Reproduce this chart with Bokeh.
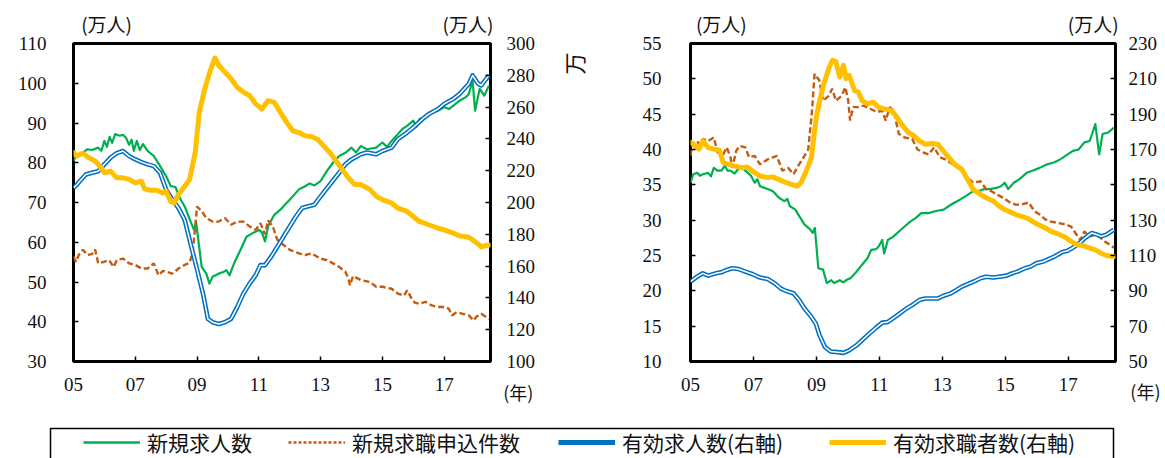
import math
from bokeh.plotting import figure
from bokeh.models import Range1d, LinearAxis, FixedTicker, Label, Legend, LegendItem
from bokeh.layouts import row, column
from bokeh.embed import file_html
from bokeh.resources import INLINE

# ---------------- data ----------------
X_TICKS = [2005, 2007, 2009, 2011, 2013, 2015, 2017]
X_LABELS = ["05", "07", "09", "11", "13", "15", "17"]

# left panel (left axis: 新規, right axis: 有効)
left_green = [(2005.00, 80.5), (2005.08, 81.5), (2005.17, 82.0), (2005.3, 82.5), (2005.45, 83.4), (2005.6, 83.2),
              (2005.8, 83.8), (2005.9, 83.0), (2006.0, 85.5), (2006.08, 84.0), (2006.17, 86.5), (2006.25, 85.0),
              (2006.35, 87.2), (2006.5, 86.8), (2006.6, 87.0), (2006.7, 86.3), (2006.8, 84.5), (2006.88, 85.8),
              (2006.95, 83.0), (2007.05, 85.5), (2007.15, 83.2), (2007.25, 84.7), (2007.4, 83.0), (2007.6, 81.7),
              (2007.8, 79.2), (2008.0, 76.6), (2008.15, 74.1), (2008.3, 73.9), (2008.45, 71.0), (2008.6, 69.0),
              (2008.75, 66.0), (2008.9, 63.1), (2008.97, 65.0), (2009.05, 60.0), (2009.15, 53.8), (2009.3, 52.1),
              (2009.4, 49.6), (2009.5, 51.3), (2009.7, 52.1), (2009.85, 52.5), (2009.95, 53.0), (2010.05, 51.7),
              (2010.2, 54.7), (2010.4, 58.0), (2010.6, 61.4), (2010.8, 62.3), (2011.0, 63.1), (2011.1, 62.5),
              (2011.2, 60.2), (2011.3, 64.0), (2011.5, 66.9), (2011.7, 68.2), (2011.85, 69.5), (2012.0, 70.7),
              (2012.3, 73.3), (2012.5, 74.1), (2012.65, 74.8), (2012.8, 74.3), (2013.0, 75.4), (2013.2, 77.9),
              (2013.4, 80.0), (2013.6, 81.7), (2013.8, 82.5), (2014.0, 83.8), (2014.15, 82.6), (2014.3, 84.2),
              (2014.5, 83.4), (2014.8, 83.8), (2015.0, 85.1), (2015.15, 84.0), (2015.3, 85.5), (2015.5, 87.2),
              (2015.65, 88.5), (2015.8, 89.3), (2016.0, 90.6), (2016.1, 89.0), (2016.2, 91.0), (2016.35, 91.3),
              (2016.5, 92.3), (2016.8, 93.1), (2017.0, 94.0), (2017.15, 93.5), (2017.3, 94.4), (2017.5, 95.6),
              (2017.7, 96.5), (2017.8, 97.3), (2017.92, 100.7), (2018.0, 93.1), (2018.15, 98.6), (2018.3, 96.9),
              (2018.45, 99.4)]
left_dash = [(2005.0, 56.4), (2005.08, 55.1), (2005.17, 56.8), (2005.3, 58.1), (2005.45, 56.8), (2005.6, 57.0),
             (2005.7, 58.2), (2005.8, 54.7), (2006.0, 55.1), (2006.15, 55.5), (2006.3, 53.8), (2006.4, 55.5),
             (2006.6, 55.9), (2006.8, 54.7), (2007.0, 54.3), (2007.2, 53.4), (2007.4, 53.4), (2007.6, 54.7),
             (2007.75, 51.7), (2007.9, 52.8), (2008.0, 52.6), (2008.2, 52.1), (2008.4, 53.4), (2008.6, 54.3),
             (2008.75, 54.8), (2008.85, 57.0), (2008.93, 63.0), (2009.0, 69.0), (2009.15, 67.8), (2009.3, 66.1),
             (2009.5, 65.2), (2009.7, 65.2), (2009.9, 66.1), (2010.1, 64.4), (2010.3, 65.2), (2010.5, 65.2),
             (2010.7, 64.0), (2010.9, 63.1), (2011.05, 64.8), (2011.2, 62.0), (2011.3, 65.5), (2011.45, 64.0),
             (2011.6, 60.6), (2011.8, 59.3), (2012.0, 58.1), (2012.3, 57.2), (2012.5, 56.8), (2012.7, 57.2),
             (2013.0, 55.9), (2013.2, 55.5), (2013.4, 54.7), (2013.6, 53.8), (2013.8, 52.6), (2013.9, 50.9),
             (2013.95, 49.2), (2014.05, 51.5), (2014.3, 50.5), (2014.6, 50.0), (2014.8, 48.8), (2015.0, 48.8),
             (2015.3, 48.3), (2015.5, 47.1), (2015.7, 46.6), (2015.8, 47.9), (2015.95, 45.8), (2016.05, 44.8),
             (2016.2, 44.5), (2016.4, 45.0), (2016.6, 44.1), (2016.8, 43.7), (2017.0, 43.7), (2017.15, 43.3),
             (2017.25, 41.6), (2017.4, 42.4), (2017.6, 42.0), (2017.8, 41.6), (2017.95, 40.3), (2018.05, 41.3),
             (2018.2, 42.0), (2018.45, 40.7)]
left_blue = [(2005.0, 209.2), (2005.1, 211.0), (2005.2, 213.4), (2005.4, 217.6), (2005.6, 218.7), (2005.8, 219.7),
             (2006.0, 224.0), (2006.2, 228.2), (2006.4, 231.0), (2006.6, 232.4), (2006.8, 229.2), (2007.0, 227.1),
             (2007.2, 225.4), (2007.4, 224.0), (2007.6, 222.9), (2007.8, 218.7), (2008.0, 208.1), (2008.2, 201.8),
             (2008.4, 196.5), (2008.6, 189.1), (2008.8, 173.3), (2009.0, 158.0), (2009.2, 142.0), (2009.35, 126.8),
             (2009.5, 124.7), (2009.7, 123.6), (2009.9, 124.7), (2010.1, 126.8), (2010.3, 134.2), (2010.5, 142.7),
             (2010.7, 149.0), (2010.9, 154.3), (2011.05, 160.6), (2011.2, 160.6), (2011.4, 165.9), (2011.6, 172.2),
             (2011.8, 178.6), (2012.0, 184.9), (2012.2, 191.2), (2012.4, 196.5), (2012.6, 197.6), (2012.8, 198.6),
             (2013.0, 203.9), (2013.3, 211.3), (2013.6, 218.7), (2013.8, 224.0), (2014.0, 227.1), (2014.3, 230.3),
             (2014.5, 231.4), (2014.8, 230.3), (2015.0, 232.4), (2015.3, 234.5), (2015.5, 239.8), (2015.8, 244.0),
             (2016.0, 247.2), (2016.3, 252.5), (2016.5, 255.6), (2016.8, 258.8), (2017.0, 262.0), (2017.3, 265.2),
             (2017.5, 268.3), (2017.8, 274.7), (2017.92, 279.9), (2018.1, 274.7), (2018.2, 273.6), (2018.45, 280.0)]
left_yellow = [(2005.0, 231.4), (2005.1, 229.2), (2005.3, 231.0), (2005.5, 228.2), (2005.7, 226.1), (2005.9, 221.9),
               (2006.0, 218.7), (2006.2, 219.7), (2006.4, 215.5), (2006.6, 215.5), (2006.8, 214.5), (2007.0, 212.4),
               (2007.2, 213.4), (2007.3, 208.6), (2007.5, 207.7), (2007.7, 207.7), (2007.9, 206.0), (2008.0, 207.1),
               (2008.15, 200.5), (2008.25, 199.7), (2008.4, 205.0), (2008.6, 210.2), (2008.76, 214.5), (2008.94, 231.4),
               (2009.07, 256.7), (2009.25, 271.5), (2009.43, 283.1), (2009.58, 290.9), (2009.7, 286.3), (2009.85, 283.1),
               (2010.1, 277.8), (2010.3, 272.5), (2010.5, 269.4), (2010.7, 267.3), (2010.9, 262.0), (2011.1, 258.8),
               (2011.3, 264.1), (2011.5, 263.0), (2011.7, 256.7), (2011.9, 250.4), (2012.1, 245.1), (2012.3, 244.0),
               (2012.5, 241.9), (2012.7, 241.5), (2012.9, 239.8), (2013.1, 235.6), (2013.3, 231.4), (2013.5, 226.1),
               (2013.7, 220.8), (2013.9, 215.5), (2014.1, 211.3), (2014.3, 211.3), (2014.6, 208.1), (2014.8, 203.9),
               (2015.0, 201.8), (2015.3, 199.7), (2015.5, 196.5), (2015.8, 194.4), (2016.0, 191.2), (2016.2, 188.1),
               (2016.5, 186.0), (2016.8, 183.8), (2017.0, 182.8), (2017.3, 180.7), (2017.5, 179.0), (2017.8, 178.1),
               (2018.0, 175.4), (2018.2, 172.2), (2018.45, 173.3)]

# right panel
right_green = [(2005.0, 35.3), (2005.09, 36.5), (2005.21, 36.7), (2005.3, 36.3), (2005.39, 36.5), (2005.56, 36.7),
               (2005.65, 36.2), (2005.74, 37.4), (2005.85, 37.0), (2005.98, 37.0), (2006.09, 37.7), (2006.18, 37.0),
               (2006.27, 37.0), (2006.4, 36.6), (2006.51, 37.2), (2006.62, 37.6), (2006.74, 37.0), (2006.92, 36.3),
               (2007.04, 35.3), (2007.12, 35.8), (2007.21, 34.8), (2007.45, 34.4), (2007.62, 34.1), (2007.8, 33.2),
               (2007.98, 32.7), (2008.08, 33.0), (2008.15, 32.0), (2008.33, 31.5), (2008.45, 30.6), (2008.62, 29.4),
               (2008.8, 28.7), (2008.88, 28.2), (2008.95, 28.9), (2009.06, 23.2), (2009.21, 23.0), (2009.33, 21.1),
               (2009.47, 21.5), (2009.56, 21.1), (2009.74, 21.5), (2009.85, 21.2), (2009.98, 21.6), (2010.09, 21.8),
               (2010.27, 22.7), (2010.45, 23.7), (2010.62, 24.6), (2010.74, 25.8), (2010.9, 25.9), (2010.98, 26.3),
               (2011.09, 27.2), (2011.15, 25.3), (2011.27, 27.2), (2011.45, 27.7), (2011.62, 28.4), (2011.8, 29.1),
               (2011.98, 29.8), (2012.15, 30.3), (2012.33, 31.0), (2012.56, 31.0), (2012.8, 31.3), (2013.04, 31.5),
               (2013.21, 32.0), (2013.39, 32.5), (2013.56, 32.9), (2013.74, 33.4), (2013.98, 34.1), (2014.15, 34.1),
               (2014.33, 34.4), (2014.51, 34.4), (2014.74, 34.6), (2014.86, 34.8), (2014.98, 35.3), (2015.09, 34.4),
               (2015.27, 35.3), (2015.45, 35.8), (2015.68, 36.7), (2015.86, 37.0), (2016.09, 37.4), (2016.33, 37.9),
               (2016.56, 38.2), (2016.74, 38.6), (2016.98, 39.3), (2017.15, 39.8), (2017.33, 40.0), (2017.51, 41.0),
               (2017.68, 41.2), (2017.86, 43.6), (2017.98, 39.3), (2018.09, 42.2), (2018.27, 42.4), (2018.45, 43.1)]
right_dash = [(2005.0, 39.1), (2005.06, 40.8), (2005.21, 41.2), (2005.3, 40.6), (2005.39, 41.5), (2005.56, 41.2),
              (2005.74, 41.7), (2005.86, 39.6), (2006.04, 39.3), (2006.15, 40.3), (2006.27, 38.9), (2006.33, 37.4),
              (2006.45, 39.8), (2006.56, 40.5), (2006.74, 40.3), (2006.86, 38.9), (2007.04, 39.1), (2007.21, 37.9),
              (2007.45, 38.6), (2007.62, 38.9), (2007.74, 39.1), (2007.92, 37.0), (2008.1, 37.4), (2008.27, 36.5),
              (2008.45, 37.9), (2008.62, 39.1), (2008.74, 40.0), (2008.86, 45.5), (2008.94, 50.7), (2009.09, 49.8),
              (2009.21, 46.9), (2009.39, 47.6), (2009.5, 48.6), (2009.62, 46.9), (2009.8, 47.6), (2009.92, 48.8),
              (2010.01, 46.9), (2010.07, 44.1), (2010.17, 46.0), (2010.33, 46.0), (2010.5, 46.2), (2010.74, 45.7),
              (2010.92, 45.3), (2011.09, 45.5), (2011.2, 44.1), (2011.33, 46.0), (2011.45, 45.5), (2011.62, 42.2),
              (2011.8, 41.7), (2012.04, 41.5), (2012.21, 40.0), (2012.39, 39.6), (2012.56, 39.3), (2012.74, 40.3),
              (2012.92, 38.9), (2013.09, 38.6), (2013.33, 37.9), (2013.56, 37.2), (2013.8, 36.0), (2013.98, 35.3),
              (2014.21, 35.5), (2014.39, 34.4), (2014.56, 34.1), (2014.74, 33.6), (2014.92, 33.2), (2015.15, 32.5),
              (2015.33, 32.2), (2015.5, 32.2), (2015.74, 32.5), (2015.92, 31.3), (2016.09, 30.8), (2016.27, 30.1),
              (2016.45, 29.8), (2016.68, 29.6), (2016.92, 29.4), (2017.09, 29.1), (2017.27, 27.9), (2017.39, 27.2),
              (2017.51, 28.4), (2017.68, 27.7), (2017.86, 27.9), (2017.98, 27.7), (2018.15, 27.0), (2018.33, 26.5),
              (2018.45, 26.1)]
right_blue = [(2005.0, 95.2), (2005.21, 98.0), (2005.39, 99.9), (2005.56, 98.6), (2005.8, 99.9), (2005.98, 100.5),
              (2006.15, 101.8), (2006.33, 102.8), (2006.51, 102.4), (2006.74, 100.9), (2006.98, 99.4), (2007.21, 97.5),
              (2007.45, 96.7), (2007.68, 94.2), (2007.86, 91.4), (2008.04, 89.9), (2008.27, 88.6), (2008.45, 84.8),
              (2008.62, 80.0), (2008.8, 76.2), (2008.98, 71.5), (2009.1, 64.8), (2009.27, 58.2), (2009.45, 55.7),
              (2009.68, 55.3), (2009.86, 54.9), (2010.04, 56.3), (2010.27, 59.1), (2010.45, 62.0), (2010.68, 65.8),
              (2010.86, 68.6), (2011.09, 72.0), (2011.27, 72.4), (2011.5, 75.3), (2011.68, 77.7), (2011.86, 80.0),
              (2012.04, 81.9), (2012.27, 84.8), (2012.45, 85.7), (2012.68, 85.7), (2012.86, 85.7), (2013.04, 87.2),
              (2013.27, 88.6), (2013.45, 90.5), (2013.62, 92.4), (2013.86, 94.2), (2014.04, 95.6), (2014.21, 97.1),
              (2014.39, 98.0), (2014.62, 97.5), (2014.8, 98.0), (2015.04, 98.6), (2015.21, 99.9), (2015.39, 100.9),
              (2015.62, 102.8), (2015.8, 103.7), (2015.98, 105.6), (2016.21, 106.6), (2016.39, 108.1), (2016.56, 109.4),
              (2016.8, 111.9), (2016.98, 112.7), (2017.21, 115.1), (2017.39, 117.6), (2017.56, 120.3), (2017.74, 122.7),
              (2017.92, 121.8), (2018.04, 120.8), (2018.21, 121.8), (2018.45, 124.6)]
right_yellow = [(2005.0, 174.0), (2005.09, 173.0), (2005.27, 170.2), (2005.39, 174.9), (2005.56, 171.1), (2005.74, 170.2),
                (2005.92, 169.6), (2006.04, 162.6), (2006.21, 161.6), (2006.39, 160.7), (2006.62, 159.7), (2006.8, 160.1),
                (2007.04, 156.9), (2007.21, 155.0), (2007.45, 154.1), (2007.62, 154.5), (2007.8, 153.1), (2008.04, 151.2),
                (2008.21, 150.3), (2008.39, 149.3), (2008.51, 151.2), (2008.68, 157.9), (2008.84, 165.4), (2008.98, 186.3),
                (2009.1, 197.7), (2009.27, 209.1), (2009.41, 216.7), (2009.51, 220.5), (2009.62, 219.6), (2009.74, 211.0),
                (2009.86, 217.7), (2009.94, 210.1), (2010.04, 212.0), (2010.21, 203.4), (2010.33, 202.5), (2010.45, 197.7),
                (2010.62, 195.8), (2010.8, 196.8), (2010.98, 193.9), (2011.15, 193.0), (2011.39, 192.0), (2011.56, 188.2),
                (2011.74, 183.5), (2011.92, 179.7), (2012.09, 177.8), (2012.27, 174.9), (2012.45, 173.0), (2012.68, 173.4),
                (2012.86, 173.0), (2012.98, 170.2), (2013.21, 165.4), (2013.39, 161.6), (2013.62, 158.8), (2013.8, 153.1),
                (2013.98, 147.4), (2014.21, 144.6), (2014.39, 142.7), (2014.62, 140.8), (2014.8, 137.9), (2014.98, 136.0),
                (2015.15, 134.7), (2015.33, 133.2), (2015.51, 132.2), (2015.68, 131.3), (2015.86, 129.4), (2016.04, 127.5),
                (2016.27, 125.6), (2016.45, 123.7), (2016.68, 122.2), (2016.86, 120.8), (2017.09, 118.0), (2017.27, 116.1),
                (2017.45, 115.7), (2017.62, 114.6), (2017.86, 113.2), (2018.04, 111.3), (2018.21, 110.0), (2018.45, 109.4)]

LEGEND_LABELS = ["新規求人数", "新規求職申込件数", "有効求人数(右軸)", "有効求職者数(右軸)"]
UNIT = "(万人)"
YEAR = "(年)"

# ---------------- style ----------------
GREEN = "#00B050"
BROWN = "#C55A11"
BLUE = "#0070C0"
YELLOW = "#FFC000"
NUM_FONT = "Liberation Serif"
JP_FONT = "Noto Sans CJK JP"
TICK_SIZE = "19px"


def xs(s):
    return [a for a, b in s]


def ys(s):
    return [b for a, b in s]


def style_axis(ax, standoff):
    ax.axis_line_color = None
    ax.major_tick_in = 5
    ax.major_tick_out = 0
    ax.minor_tick_in = 0
    ax.minor_tick_out = 0
    ax.major_tick_line_color = "black"
    ax.major_tick_line_width = 1.5
    ax.major_label_text_font = NUM_FONT
    ax.major_label_text_font_size = TICK_SIZE
    ax.major_label_text_color = "#111111"
    ax.major_label_standoff = standoff


def panel(b_left, b_right, frame_w, lrange, lstep, rrange, rstep, green, dash, blue, yellow,
          lstand, rstand, unit_pos):
    p = figure(frame_width=frame_w, frame_height=318,
               min_border_left=b_left, min_border_right=b_right,
               min_border_top=43, min_border_bottom=47,
               x_range=Range1d(2005, 2018.5), y_range=Range1d(*lrange),
               output_backend="svg", toolbar_location=None)
    p.extra_y_ranges = {"r": Range1d(*rrange)}
    p.xgrid.visible = False
    p.ygrid.visible = False
    p.outline_line_color = "black"
    p.outline_line_width = 3
    p.background_fill_color = "white"
    p.border_fill_color = "white"

    xa = p.xaxis[0]
    xa.ticker = FixedTicker(ticks=X_TICKS)
    xa.major_label_overrides = {t: l for t, l in zip(X_TICKS, X_LABELS)}
    style_axis(xa, 16)

    la = p.yaxis[0]
    la.ticker = FixedTicker(ticks=list(range(lrange[0], lrange[1] + 1, lstep)))
    style_axis(la, lstand)

    ra = LinearAxis(y_range_name="r")
    ra.ticker = FixedTicker(ticks=list(range(rrange[0], rrange[1] + 1, rstep)))
    style_axis(ra, rstand)
    p.add_layout(ra, "right")

    # unit captions "(万人)" above both value axes
    ua = LinearAxis(ticker=FixedTicker(ticks=unit_pos),
                    major_label_overrides={u: UNIT for u in unit_pos})
    ua.axis_line_color = None
    ua.major_tick_line_color = None
    ua.minor_tick_line_color = None
    ua.major_label_text_font = JP_FONT
    ua.major_label_text_font_size = "19px"
    ua.major_label_text_color = "#111111"
    ua.major_label_standoff = 1
    p.add_layout(ua, "above")

    p.line(xs(green), ys(green), line_color=GREEN, line_width=2.2, line_join="round")
    p.line(xs(dash), ys(dash), line_color=BROWN, line_width=2.4, line_dash="6 3")
    p.line(xs(blue), ys(blue), y_range_name="r", line_color=BLUE, line_width=4.6, line_join="round")
    p.line(xs(blue), ys(blue), y_range_name="r", line_color="white", line_width=1.5, line_join="round")
    p.line(xs(yellow), ys(yellow), y_range_name="r", line_color=YELLOW, line_width=5, line_join="round",
           line_cap="round")
    return p


p1 = panel(73, 116, 417, (30, 110), 10, (100, 300), 20,
           left_green, left_dash, left_blue, left_yellow, 27, 16, [2006.07, 2017.77])
p2 = panel(84, 50, 425, (10, 55), 5, (50, 230), 20,
           right_green, right_dash, right_blue, right_yellow, 29, 13, [2005.98, 2017.79])


def side_label(p, side, x, y, text, size="18px", angle=0.0, align="center"):
    p.add_layout(Label(x=x, y=y, text=text, text_font=JP_FONT, text_font_size=size,
                       text_align=align, text_baseline="middle", angle=angle,
                       text_color="#111111"), side)


side_label(p1, "right", 2019.40, 22.4, YEAR)
side_label(p1, "right", 2021.18, 105.0, "万", size="22px", angle=math.pi / 2)
side_label(p2, "left", 2019.45, 5.76, YEAR)

# ---------------- legend strip ----------------
LW, LH = 1165, 50
lf = figure(width=LW, height=LH, x_range=Range1d(0, LW), y_range=Range1d(0, LH),
            min_border=0, x_axis_type=None, y_axis_type=None,
            output_backend="svg", toolbar_location=None)
lf.outline_line_color = None
lf.xgrid.visible = False
lf.ygrid.visible = False
lf.line([50, 50, 1113, 1113], [-5, 30, 30, -5], line_color="black", line_width=1.5)

styles = [dict(line_color=GREEN, line_width=2.6),
          dict(line_color=BROWN, line_width=2.6, line_dash="3 2"),
          dict(line_color=BLUE, line_width=5),
          dict(line_color=YELLOW, line_width=5)]
item_x = [83, 288, 558, 829]
for lab, st, lx in zip(LEGEND_LABELS, styles, item_x):
    r = lf.line([-60, -50], [-60, -60], **st)
    leg = Legend(items=[LegendItem(label=lab, renderers=[r])], location=(lx, 1),
                 orientation="horizontal", glyph_width=57, glyph_height=20, label_standoff=7,
                 padding=0, margin=0, border_line_color=None, background_fill_alpha=0,
                 label_text_font=JP_FONT, label_text_font_size="21px", label_text_color="#111111")
    lf.add_layout(leg)

layout = column(row(p1, p2), lf)
open("out.html", "w").write(file_html(layout, INLINE))
